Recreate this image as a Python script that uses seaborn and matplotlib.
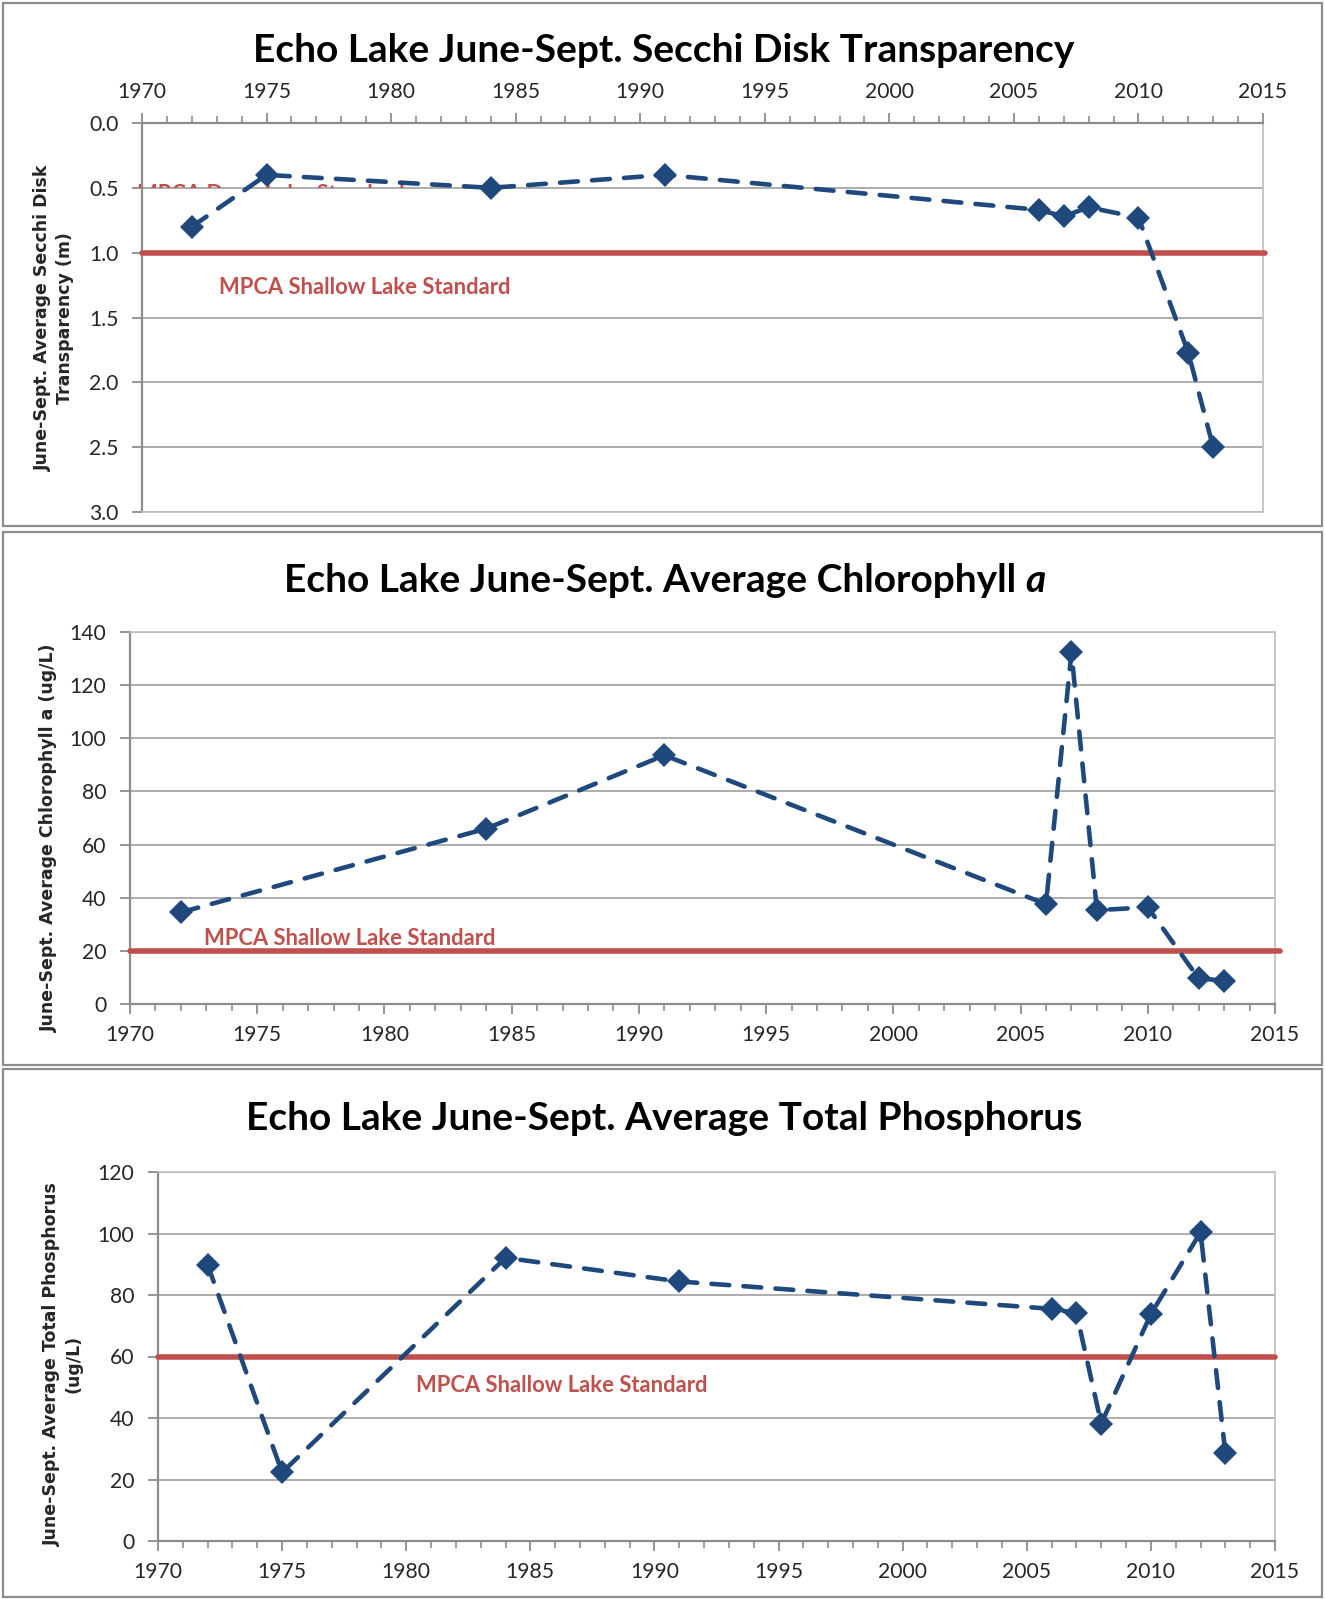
import matplotlib
matplotlib.use("Agg")
import matplotlib.pyplot as plt
import seaborn as sns
import numpy as np
import pandas as pd
from matplotlib.patches import Rectangle
from matplotlib.ticker import MultipleLocator

# ---------------- data ----------------
secchi_years = [1972, 1975, 1984, 1991, 2006, 2007, 2008, 2010, 2012, 2013]
secchi_vals = [0.80, 0.40, 0.50, 0.40, 0.67, 0.72, 0.65, 0.73, 1.77, 2.50]

chla_years = [1972, 1984, 1991, 2006, 2007, 2008, 2010, 2012, 2013]
chla_vals = [34.5, 66.0, 93.6, 37.6, 132.3, 35.3, 36.4, 9.6, 8.8]

tp_years = [1972, 1975, 1984, 1991, 2006, 2007, 2008, 2010, 2012, 2013]
tp_vals = [89.8, 22.3, 92.1, 84.4, 75.5, 74.1, 38.2, 73.8, 100.4, 28.6]

secchi_std = 1.0
chla_std = 20
tp_std = 60
std_label = "MPCA Shallow Lake Standard"
deep_label = "MPCA Deep Lake Standard"

titles = ["Echo Lake June-Sept. Secchi Disk Transparency",
          "Echo Lake June-Sept. Average Chlorophyll ",
          "Echo Lake June-Sept. Average Total Phosphorus"]
ylabels = ["June-Sept. Average Secchi Disk\nTransparency (m)",
           "June-Sept. Average Chlorophyll a (ug/L)",
           "June-Sept. Average Total Phosphorus\n(ug/L)"]

# ---------------- style ----------------
sns.set_theme(style="white")
plt.rcParams['font.family'] = ['Lato', 'DejaVu Sans']

LINE = "#1F497D"
RED = "#C0504D"
GRID = "#A6A6A6"
AXC = "#8C8C8C"

W, H = 1325, 1599
fig = plt.figure(figsize=(W / 100, H / 100), dpi=100)
fig.patch.set_facecolor("white")


def rect(l, t, r, b):
    return [l / W, 1 - b / H, (r - l) / W, (b - t) / H]


# panel borders
for (l, t, r, b) in [(3, 3, 1322, 526), (3, 532, 1322, 1065), (3, 1069, 1322, 1597)]:
    fig.patches.append(Rectangle((l / W, 1 - b / H), (r - l) / W, (b - t) / H,
                                 transform=fig.transFigure, fill=False,
                                 edgecolor=AXC, linewidth=1.6))

ax1 = fig.add_axes(rect(142, 123, 1263, 512))
ax2 = fig.add_axes(rect(130, 632, 1275, 1004))
ax3 = fig.add_axes(rect(158, 1172, 1275, 1541))

TICKFS = 15.2
LABFS = 15.8


def style_axes(ax, top=False):
    for s in ax.spines.values():
        s.set_visible(True)
        s.set_color("#BFBFBF")
        s.set_linewidth(1.2)
    ax.spines['left'].set_color(AXC)
    ax.spines['left'].set_linewidth(1.6)
    main = 'top' if top else 'bottom'
    ax.spines[main].set_color(AXC)
    ax.spines[main].set_linewidth(1.6)
    ax.set_xlim(1970, 2015)
    ax.xaxis.set_major_locator(MultipleLocator(5))
    ax.xaxis.set_minor_locator(MultipleLocator(1))
    ax.yaxis.grid(True, color=GRID, linewidth=1.3)
    ax.xaxis.grid(False)
    ax.set_axisbelow(True)
    if top:
        ax.xaxis.tick_top()
    ax.tick_params(axis='x', which='major', direction='out', length=7, width=1.3,
                   color=AXC, labelsize=TICKFS, pad=8,
                   top=top, bottom=not top, labeltop=top, labelbottom=not top)
    ax.tick_params(axis='x', which='minor', direction='out', length=5, width=1.2,
                   color=AXC, top=top, bottom=not top)
    ax.tick_params(axis='y', which='major', direction='out', length=7, width=1.3,
                   color=AXC, labelsize=TICKFS, pad=10, left=True)
    ax.set_xlabel("")
    ax.set_ylabel("")


def draw_series(ax, xs, ys):
    df = pd.DataFrame({"year": xs, "value": ys})
    sns.lineplot(data=df, x="year", y="value", ax=ax, color=LINE, linewidth=3.3,
                 linestyle=(0, (3.9, 3.1)), dash_capstyle='round',
                 marker='D', markersize=12, markeredgewidth=0,
                 markerfacecolor=LINE, sort=False, zorder=5, clip_on=False)


# ---- panel 1 ----
style_axes(ax1, top=True)
ax1.axhline(secchi_std, xmin=0, xmax=1.002, color=RED, linewidth=4, zorder=3, clip_on=False)
draw_series(ax1, secchi_years, secchi_vals)
ax1.set_ylim(3.0, 0.0)
ax1.yaxis.set_major_locator(MultipleLocator(0.5))
ax1.yaxis.set_major_formatter(matplotlib.ticker.FormatStrFormatter('%.1f'))
ax1.set_xlabel("")
ax1.set_ylabel("")
ax1.text(1973.1, 1.27, std_label, color=RED, fontsize=LABFS, fontweight='bold',
         ha='left', va='center', zorder=4)
dt = ax1.text(1969.8, 0.60, deep_label, color=RED, fontsize=LABFS, fontweight='bold',
              ha='left', va='baseline', zorder=2, clip_on=True)
clip = Rectangle((1969.7, 0.46), 11, 0.038, transform=ax1.transData)
dt.set_clip_path(clip)

# ---- panel 2 ----
style_axes(ax2)
ax2.axhline(chla_std, xmin=0, xmax=1.004, color=RED, linewidth=4, zorder=3, clip_on=False)
draw_series(ax2, chla_years, chla_vals)
ax2.set_ylim(0, 140)
ax2.yaxis.set_major_locator(MultipleLocator(20))
ax2.set_xlabel("")
ax2.set_ylabel("")
ax2.text(1972.9, 24.5, std_label, color=RED, fontsize=LABFS, fontweight='bold',
         ha='left', va='center', zorder=4)

# ---- panel 3 ----
style_axes(ax3)
ax3.axhline(tp_std, xmin=0, xmax=1.0, color=RED, linewidth=4, zorder=3, clip_on=False)
draw_series(ax3, tp_years, tp_vals)
ax3.set_ylim(0, 120)
ax3.yaxis.set_major_locator(MultipleLocator(20))
ax3.set_xlabel("")
ax3.set_ylabel("")
ax3.text(1980.4, 50.5, std_label, color=RED, fontsize=LABFS, fontweight='bold',
         ha='left', va='center', zorder=4)

# ---- titles ----
TFS = 28
fig.text(664 / W, 1 - 50 / H, titles[0], ha='center', va='center',
         fontsize=TFS, fontweight='bold', color='black')
t2 = fig.text(0.5, 1 - 592 / H, titles[1], ha='left', va='baseline',
              fontsize=TFS, fontweight='bold', color='black')
t2a = fig.text(0.5, 1 - 592 / H, "a", ha='left', va='baseline',
               fontsize=TFS, fontweight='bold', fontstyle='italic', color='black')
fig.canvas.draw()
r = fig.canvas.get_renderer()
b1 = t2.get_window_extent(r)
b2 = t2a.get_window_extent(r)
total = b1.width + b2.width
x0 = 665 - total / 2
t2.set_x(x0 / W)
t2a.set_x((x0 + b1.width) / W)
fig.text(664 / W, 1 - 1119 / H, titles[2], ha='center', va='center',
         fontsize=TFS, fontweight='bold', color='black')

# ---- y labels ----
YFS = 12.5
fig.text(54 / W, 1 - 318 / H, ylabels[0], rotation=90, ha='center', va='center',
         multialignment='center', fontsize=YFS, fontweight='bold',
         family=['DejaVu Sans'], linespacing=1.25)
fig.text(49 / W, 1 - 838 / H, ylabels[1], rotation=90, ha='center', va='center',
         fontsize=YFS, fontweight='bold', family=['DejaVu Sans'])
fig.text(63 / W, 1 - 1364 / H, ylabels[2], rotation=90, ha='center', va='center',
         multialignment='center', fontsize=YFS, fontweight='bold',
         family=['DejaVu Sans'], linespacing=1.25)

fig.savefig("out.png", dpi=100, facecolor="white")
